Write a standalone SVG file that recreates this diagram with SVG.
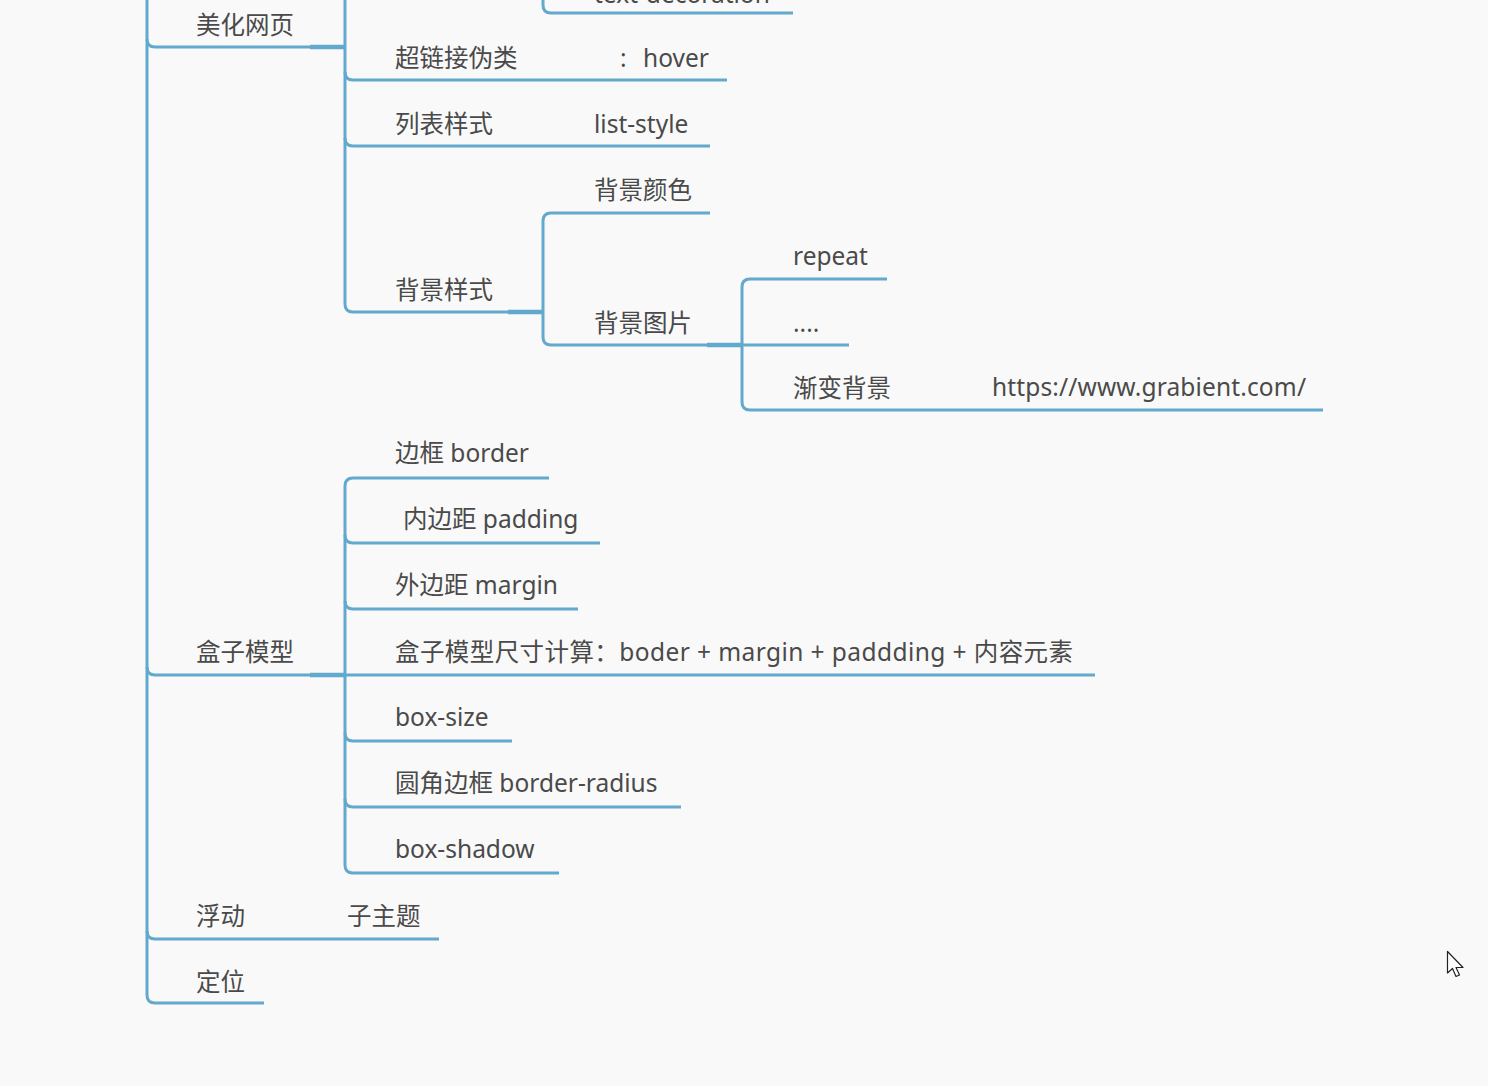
<svg xmlns="http://www.w3.org/2000/svg" width="1488" height="1086" viewBox="0 0 1488 1086">
<style>
  .t { font-family: "Noto Sans", "Noto Sans CJK SC", sans-serif; font-size: 24.5px; fill: #4a4a4a; }
  .ln { fill: none; stroke: #62a9cd; stroke-width: 3; stroke-linecap: butt; stroke-linejoin: round; }
  .jn { fill: none; stroke: #62a9cd; stroke-width: 4.5; }
</style>
<rect width="1488" height="1086" fill="#f9f9f9"/>
<g id="connectors">
  <!-- trunk -->
  <path class="ln" d="M147,-5 V995 Q147,1003 155,1003 H264"/>
  <path class="ln" d="M147,39 Q147,47 155,47 H345"/>
  <path class="ln" d="M147,667 Q147,675 155,675 H345"/>
  <path class="ln" d="M147,931 Q147,939 155,939 H439"/>
  <!-- 美化网页 children -->
  <path class="ln" d="M345,-5 V304 Q345,312 353,312 H543"/>
  <path class="ln" d="M345,72 Q345,80 353,80 H727"/>
  <path class="ln" d="M345,138 Q345,146 353,146 H710"/>
  <path class="ln" d="M543,-5 V5 Q543,13 551,13 H793"/>
  <!-- 背景样式 children -->
  <path class="ln" d="M710,213 H551 Q543,213 543,221 V337 Q543,345 551,345 H742"/>
  <!-- 背景图片 children -->
  <path class="ln" d="M887,279 H750 Q742,279 742,287 V402 Q742,410 750,410 H1323"/>
  <path class="ln" d="M742,345 H849"/>
  <!-- 盒子模型 children -->
  <path class="ln" d="M549,478 H353 Q345,478 345,486 V865 Q345,873 353,873 H559"/>
  <path class="ln" d="M345,535 Q345,543 353,543 H600"/>
  <path class="ln" d="M345,601 Q345,609 353,609 H578"/>
  <path class="ln" d="M345,675 H1095"/>
  <path class="ln" d="M345,733 Q345,741 353,741 H512"/>
  <path class="ln" d="M345,799 Q345,807 353,807 H681"/>
  <!-- junction stubs -->
  <path class="jn" d="M310,47 H345"/>
  <path class="jn" d="M310,675 H345"/>
  <path class="jn" d="M508,312 H543"/>
  <path class="jn" d="M707,345 H742"/>
</g>
<g id="n-top"><text class="t" x="594" y="3">text-decoration</text></g>
<g id="n-meihua"><text class="t" x="196" y="34">美化网页</text></g>
<g id="n-chaolian"><text class="t" x="395" y="67">超链接伪类</text><text class="t" x="620" y="67">:</text><text class="t" x="643" y="67">hover</text></g>
<g id="n-liebiao"><text class="t" x="395" y="133">列表样式</text><text class="t" x="594" y="133">list-style</text></g>
<g id="n-beijing"><text class="t" x="395" y="299">背景样式</text></g>
<g id="n-bjys"><text class="t" x="594" y="199">背景颜色</text></g>
<g id="n-bjtp"><text class="t" x="594" y="332">背景图片</text></g>
<g id="n-repeat"><text class="t" x="793" y="265">repeat</text></g>
<g id="n-dots"><text class="t" x="793" y="332">....</text></g>
<g id="n-jianbian"><text class="t" x="793" y="397">渐变背景</text><text class="t" x="992" y="396" textLength="314" lengthAdjust="spacing">https://www.grabient.com/</text></g>
<g id="n-border"><text class="t" x="395" y="462">边框 border</text></g>
<g id="n-padding"><text class="t" x="403" y="528">内边距 padding</text></g>
<g id="n-margin"><text class="t" x="395" y="594">外边距 margin</text></g>
<g id="n-hezi"><text class="t" x="196" y="661">盒子模型</text></g>
<g id="n-chicun"><text class="t" x="395" y="661" textLength="678" lengthAdjust="spacing">盒子模型尺寸计算：boder + margin + paddding + 内容元素</text></g>
<g id="n-boxsize"><text class="t" x="395" y="726">box-size</text></g>
<g id="n-radius"><text class="t" x="395" y="792">圆角边框 border-radius</text></g>
<g id="n-shadow"><text class="t" x="395" y="858">box-shadow</text></g>
<g id="n-fudong"><text class="t" x="196" y="925">浮动</text><text class="t" x="347" y="925">子主题</text></g>
<g id="n-dingwei"><text class="t" x="196" y="991">定位</text></g>
<g id="cursor"><path d="M1447.5,951.5 V973 L1452.5,968.5 L1456,976.5 L1459.5,975 L1456,967.5 L1463,967.5 Z" fill="#ffffff" stroke="#222" stroke-width="1.2" stroke-linejoin="round"/></g>
</svg>
